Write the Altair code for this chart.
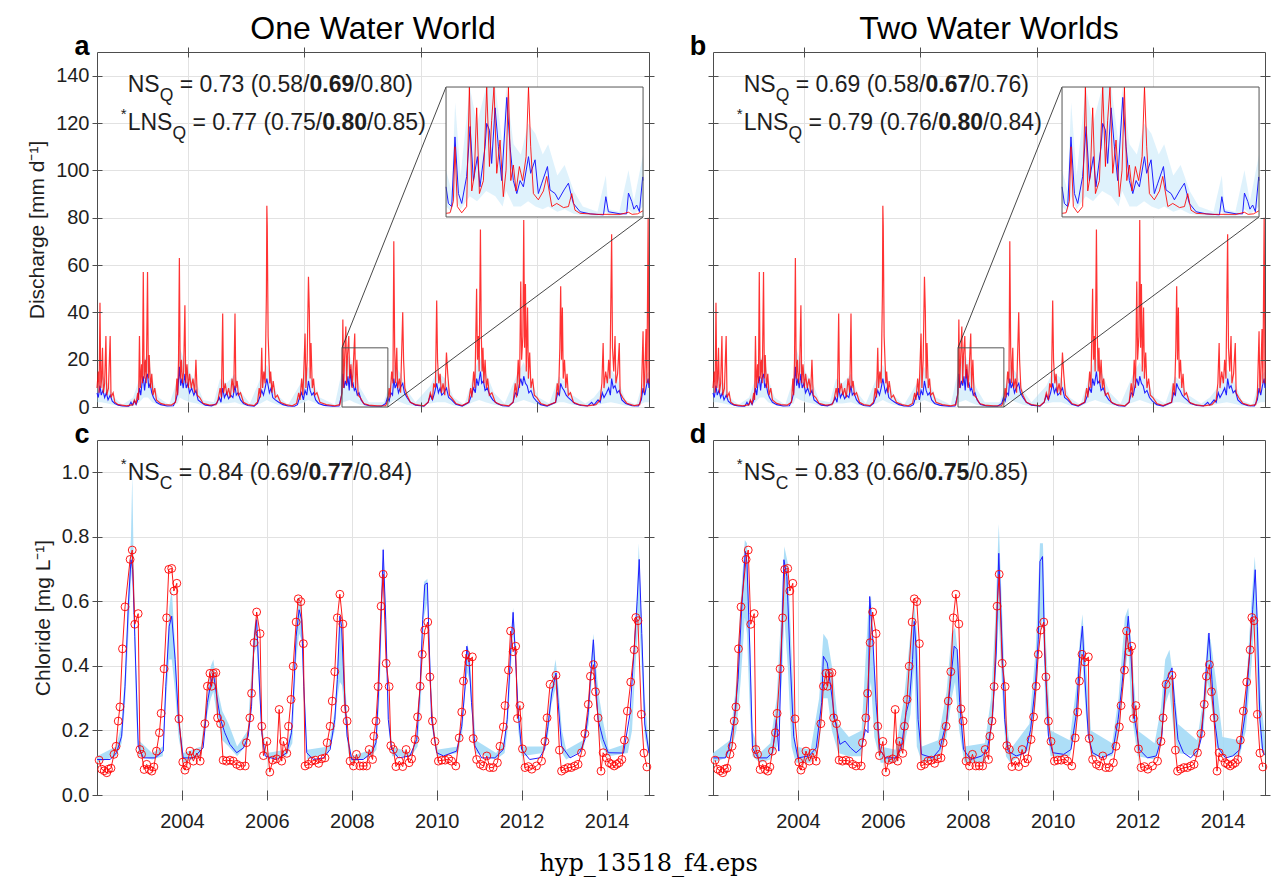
import altair as alt
import pandas as pd

# ============================ DATA ============================
# Discharge, observed (red): (decimal year, mm d-1)
Q_OBS = [
    (2002.00, 8), (2002.03, 15), (2002.05, 6), (2002.07, 44), (2002.09, 8), (2002.11, 12), (2002.13, 25),
    (2002.15, 6), (2002.18, 10), (2002.21, 30), (2002.23, 5), (2002.27, 8), (2002.31, 30), (2002.33, 4),
    (2002.38, 6), (2002.42, 2), (2002.50, 1), (2002.70, 0.5), (2002.85, 1), (2002.88, 3), (2002.92, 1.5),
    (2002.96, 6), (2002.98, 3),
    (2003.00, 30), (2003.02, 8), (2003.05, 18), (2003.07, 10), (2003.09, 57), (2003.11, 12), (2003.14, 20),
    (2003.16, 10), (2003.19, 57), (2003.21, 12), (2003.23, 22), (2003.26, 8), (2003.29, 14), (2003.32, 5),
    (2003.36, 8), (2003.40, 3), (2003.50, 1.5), (2003.60, 1), (2003.75, 0.8),
    (2003.85, 2), (2003.88, 12), (2003.90, 5), (2003.92, 20), (2003.94, 63), (2003.96, 12), (2003.99, 20),
    (2004.01, 10), (2004.04, 15), (2004.07, 43), (2004.09, 10), (2004.12, 18), (2004.15, 8), (2004.18, 14),
    (2004.22, 8), (2004.26, 12), (2004.30, 6), (2004.33, 20), (2004.36, 5), (2004.42, 4), (2004.50, 1.5),
    (2004.65, 0.8), (2004.80, 1),
    (2004.85, 3), (2004.90, 8), (2004.93, 4), (2004.96, 39.5), (2004.98, 6), (2005.02, 10), (2005.06, 5),
    (2005.10, 8), (2005.14, 4), (2005.18, 12), (2005.22, 6), (2005.25, 39.5), (2005.27, 8), (2005.30, 11),
    (2005.33, 5), (2005.38, 6), (2005.45, 2), (2005.55, 1), (2005.70, 0.6),
    (2005.78, 2), (2005.82, 8), (2005.85, 4), (2005.88, 25), (2005.90, 8), (2005.93, 15), (2005.96, 10),
    (2005.99, 48), (2006.00, 85), (2006.01, 76), (2006.03, 30), (2006.05, 20), (2006.07, 10), (2006.09, 15),
    (2006.12, 6), (2006.15, 11), (2006.20, 4), (2006.25, 5), (2006.32, 2), (2006.45, 1), (2006.60, 0.5),
    (2006.70, 1.5), (2006.75, 6), (2006.78, 3), (2006.82, 12), (2006.85, 5), (2006.90, 31), (2006.92, 8),
    (2006.95, 20), (2006.98, 55), (2007.00, 41), (2007.02, 12), (2007.04, 27), (2007.07, 8), (2007.10, 12),
    (2007.13, 5), (2007.18, 6), (2007.25, 2), (2007.40, 1), (2007.60, 0.5),
    (2007.72, 1), (2007.77, 6), (2007.79, 37), (2007.81, 8), (2007.83, 20), (2007.86, 34), (2007.88, 10),
    (2007.90, 22), (2007.93, 30), (2007.95, 12), (2007.98, 18), (2008.01, 8), (2008.03, 15), (2008.07, 31),
    (2008.09, 8), (2008.12, 20), (2008.15, 5), (2008.20, 4), (2008.28, 1.5), (2008.40, 0.8), (2008.60, 0.5),
    (2008.80, 0.6),
    (2008.85, 3), (2008.88, 8), (2008.90, 4), (2008.94, 15), (2008.97, 10), (2008.99, 70), (2009.01, 25),
    (2009.03, 10), (2009.06, 25), (2009.08, 8), (2009.12, 12), (2009.15, 6), (2009.20, 40), (2009.22, 20),
    (2009.25, 8), (2009.30, 5), (2009.38, 2), (2009.50, 1), (2009.70, 0.5),
    (2009.80, 2), (2009.85, 6), (2009.90, 3), (2009.93, 10), (2009.97, 8), (2010.00, 45), (2010.02, 20),
    (2010.05, 10), (2010.08, 14), (2010.11, 6), (2010.15, 10), (2010.19, 5), (2010.23, 23), (2010.26, 14),
    (2010.30, 5), (2010.35, 4), (2010.45, 1.5), (2010.60, 0.6),
    (2010.75, 2), (2010.80, 8), (2010.83, 4), (2010.87, 15), (2010.90, 8), (2010.94, 50), (2010.96, 20),
    (2010.98, 30), (2011.00, 15), (2011.03, 75), (2011.05, 31), (2011.07, 15), (2011.09, 25), (2011.11, 10),
    (2011.14, 20), (2011.17, 8), (2011.20, 12), (2011.24, 5), (2011.30, 6), (2011.38, 2), (2011.50, 1),
    (2011.70, 0.5),
    (2011.80, 2), (2011.85, 10), (2011.88, 4), (2011.92, 20), (2011.95, 8), (2011.98, 53), (2012.00, 20),
    (2012.03, 30), (2012.05, 79), (2012.07, 25), (2012.09, 52), (2012.11, 15), (2012.14, 42), (2012.16, 12),
    (2012.19, 23), (2012.22, 8), (2012.26, 12), (2012.30, 5), (2012.36, 4), (2012.45, 1.5), (2012.60, 0.6),
    (2012.80, 2), (2012.84, 10), (2012.87, 5), (2012.90, 25), (2012.92, 51), (2012.94, 20), (2012.96, 42),
    (2012.98, 12), (2013.01, 20), (2013.04, 8), (2013.07, 14), (2013.10, 5), (2013.15, 6), (2013.22, 2),
    (2013.35, 1), (2013.55, 0.5), (2013.75, 1),
    (2013.85, 3), (2013.89, 10), (2013.92, 27), (2013.94, 8), (2013.98, 15), (2014.02, 10), (2014.05, 20),
    (2014.08, 12), (2014.12, 73), (2014.14, 25), (2014.17, 15), (2014.20, 30), (2014.22, 10), (2014.26, 14),
    (2014.30, 27), (2014.32, 6), (2014.38, 4), (2014.48, 1.5), (2014.65, 0.6),
    (2014.78, 1), (2014.82, 5), (2014.86, 32), (2014.88, 6), (2014.90, 12), (2014.93, 33), (2014.95, 10),
    (2014.98, 80), (2015.00, 10),
]

# Discharge, model median (blue)
Q_MOD = [
    (2002.00, 6), (2002.03, 4), (2002.07, 9), (2002.10, 5), (2002.14, 7), (2002.18, 4), (2002.22, 6),
    (2002.26, 3), (2002.31, 5), (2002.36, 2.5), (2002.42, 1.5), (2002.50, 0.8), (2002.60, 0.4), (2002.75, 0.3),
    (2002.80, 2), (2002.83, 0.8), (2002.88, 2.5), (2002.92, 1), (2002.96, 3),
    (2003.00, 8), (2003.03, 5), (2003.06, 10), (2003.09, 13), (2003.12, 7), (2003.15, 12), (2003.19, 14),
    (2003.22, 8), (2003.25, 10), (2003.29, 6), (2003.33, 4), (2003.40, 2), (2003.50, 1), (2003.65, 0.4),
    (2003.80, 0.5),
    (2003.86, 3), (2003.90, 6), (2003.94, 17), (2003.97, 9), (2004.00, 12), (2004.03, 8), (2004.07, 14),
    (2004.10, 8), (2004.14, 10), (2004.18, 6), (2004.23, 8), (2004.28, 5), (2004.33, 7), (2004.38, 3),
    (2004.45, 2), (2004.55, 0.8), (2004.70, 0.5), (2004.82, 1.5),
    (2004.88, 4), (2004.92, 2), (2004.96, 8), (2005.00, 4), (2005.05, 6), (2005.10, 3.5), (2005.15, 5),
    (2005.20, 4), (2005.25, 9), (2005.28, 5), (2005.32, 6), (2005.38, 3), (2005.45, 1.5), (2005.55, 0.6),
    (2005.70, 0.3),
    (2005.78, 1.5), (2005.83, 4), (2005.88, 7), (2005.92, 5), (2005.96, 8), (2006.00, 12), (2006.03, 9),
    (2006.06, 6), (2006.10, 8), (2006.14, 4), (2006.20, 3), (2006.28, 2), (2006.38, 1), (2006.50, 0.4),
    (2006.65, 0.3),
    (2006.72, 1), (2006.77, 4), (2006.82, 6), (2006.86, 3), (2006.90, 7), (2006.94, 5), (2006.98, 11),
    (2007.02, 7), (2007.06, 5), (2007.10, 6), (2007.15, 3), (2007.22, 1.5), (2007.35, 0.7), (2007.55, 0.3),
    (2007.70, 0.4),
    (2007.76, 5), (2007.79, 14), (2007.82, 8), (2007.85, 11), (2007.88, 9), (2007.91, 13), (2007.94, 7),
    (2007.97, 16), (2008.00, 9), (2008.03, 10), (2008.06, 7), (2008.09, 8), (2008.13, 5), (2008.17, 6),
    (2008.22, 3), (2008.30, 1), (2008.45, 0.4), (2008.70, 0.3), (2008.80, 1.5),
    (2008.84, 4), (2008.88, 2.5), (2008.92, 6), (2008.96, 5), (2008.99, 12), (2009.02, 8), (2009.06, 10),
    (2009.10, 6), (2009.14, 8), (2009.20, 10), (2009.24, 6), (2009.30, 4), (2009.38, 2), (2009.50, 0.8),
    (2009.70, 0.3),
    (2009.80, 2), (2009.85, 5), (2009.90, 3), (2009.95, 6), (2010.00, 10), (2010.04, 6), (2010.08, 8),
    (2010.12, 5), (2010.17, 6), (2010.23, 8), (2010.28, 4), (2010.35, 3), (2010.45, 1.2), (2010.60, 0.4),
    (2010.76, 2), (2010.82, 5), (2010.87, 8), (2010.91, 6), (2010.94, 12), (2010.98, 9), (2011.03, 15),
    (2011.06, 10), (2011.10, 11), (2011.14, 7), (2011.19, 8), (2011.25, 5), (2011.32, 3), (2011.42, 1.5),
    (2011.55, 0.5), (2011.70, 0.3),
    (2011.80, 2), (2011.85, 6), (2011.90, 5), (2011.94, 9), (2011.98, 12), (2012.02, 9), (2012.05, 13),
    (2012.09, 10), (2012.13, 9), (2012.17, 6), (2012.22, 7), (2012.28, 4), (2012.35, 2.5), (2012.45, 1),
    (2012.60, 0.4),
    (2012.80, 2), (2012.85, 6), (2012.89, 5), (2012.92, 10), (2012.96, 8), (2013.00, 7), (2013.05, 5),
    (2013.10, 4), (2013.16, 3), (2013.25, 1.5), (2013.40, 0.6), (2013.55, 0.4), (2013.65, 2), (2013.70, 0.8),
    (2013.80, 3),
    (2013.85, 2), (2013.90, 6), (2013.94, 4), (2014.00, 6), (2014.05, 8), (2014.09, 5), (2014.12, 12),
    (2014.16, 8), (2014.20, 9), (2014.25, 6), (2014.30, 7), (2014.36, 3), (2014.45, 1.5), (2014.60, 0.5),
    (2014.75, 0.4),
    (2014.82, 3), (2014.86, 8), (2014.90, 5), (2014.94, 9), (2014.98, 12), (2015.00, 8),
]

# Discharge, model uncertainty band (light blue): (year, low, high)
Q_BAND = [
    (2002.00, 2, 10), (2002.10, 2, 14), (2002.25, 1.5, 10), (2002.40, 0.8, 4), (2002.60, 0.2, 1),
    (2002.85, 0.3, 4), (2003.00, 2, 12), (2003.10, 4, 20), (2003.20, 4, 22), (2003.30, 2, 12),
    (2003.45, 0.8, 4), (2003.70, 0.2, 1), (2003.90, 1.5, 12), (2003.95, 4, 25), (2004.05, 3, 20),
    (2004.20, 2, 14), (2004.35, 1.5, 10), (2004.50, 0.5, 3), (2004.75, 0.3, 2), (2004.90, 1.5, 12),
    (2005.05, 1.5, 10), (2005.25, 2, 14), (2005.40, 1, 6), (2005.60, 0.2, 1.5), (2005.85, 1.5, 12),
    (2006.00, 3, 18), (2006.10, 2, 13), (2006.25, 1, 5), (2006.50, 0.2, 1), (2006.80, 1.5, 10),
    (2006.98, 3, 17), (2007.10, 2, 10), (2007.25, 0.8, 4), (2007.60, 0.2, 1), (2007.80, 2, 18),
    (2007.95, 3, 22), (2008.05, 2, 16), (2008.20, 1, 8), (2008.40, 0.3, 2), (2008.75, 0.3, 2),
    (2008.90, 1.5, 10), (2009.00, 3, 18), (2009.15, 2, 14), (2009.30, 1, 7), (2009.50, 0.3, 2),
    (2009.85, 1.5, 9), (2010.00, 2, 15), (2010.20, 2, 12), (2010.40, 0.6, 4), (2010.65, 0.2, 1),
    (2010.85, 2, 12), (2011.00, 3, 22), (2011.15, 2, 15), (2011.35, 1, 6), (2011.60, 0.2, 1.5),
    (2011.90, 2, 14), (2012.05, 3, 19), (2012.20, 2, 12), (2012.40, 0.7, 4), (2012.65, 0.2, 1.5),
    (2012.88, 2, 13), (2013.00, 2, 11), (2013.20, 1, 5), (2013.50, 0.3, 1.5), (2013.70, 0.4, 4),
    (2013.92, 1.5, 9), (2014.10, 2, 16), (2014.25, 1.5, 12), (2014.45, 0.5, 3), (2014.70, 0.3, 1),
    (2014.90, 2, 13), (2015.00, 2, 15),
]

# Zoom window shown in the inset
ZOOM_T = [2007.77, 2008.85]
ZOOM_Q = [0, 25]

# Inset series (zoomed window)
IN_OBS = [
    (2007.770, 0.7), (2007.792, 0.8), (2007.810, 3), (2007.819, 13.5), (2007.832, 2), (2007.856, 0.8),
    (2007.883, 2), (2007.898, 35), (2007.911, 5), (2007.925, 8), (2007.938, 21), (2007.953, 4.5),
    (2007.975, 7), (2007.993, 35), (2008.008, 9.7), (2008.020, 18.6), (2008.033, 35), (2008.048, 8.4),
    (2008.066, 14.8), (2008.084, 3.9), (2008.099, 9), (2008.112, 35), (2008.125, 7), (2008.139, 10),
    (2008.154, 5), (2008.172, 9.7), (2008.190, 7), (2008.209, 11.6), (2008.222, 35), (2008.234, 13.5),
    (2008.249, 4.5), (2008.276, 3.3), (2008.304, 5), (2008.322, 7.8), (2008.350, 2), (2008.377, 2.6),
    (2008.414, 1.8), (2008.441, 2), (2008.459, 4.5), (2008.477, 1.3), (2008.505, 0.7), (2008.596, 0.5),
    (2008.724, 0.5), (2008.770, 0.9), (2008.790, 0.5), (2008.820, 0.6), (2008.850, 1.2),
]
IN_MOD = [
    (2007.770, 5.8), (2007.783, 2.6), (2007.801, 2), (2007.819, 15.4), (2007.838, 4.5), (2007.856, 2.6),
    (2007.883, 7.8), (2007.902, 17.4), (2007.920, 7), (2007.942, 11.6), (2007.956, 5.8), (2007.984, 13.5),
    (2007.993, 18), (2008.008, 16.7), (2008.020, 10.3), (2008.039, 21), (2008.057, 13.5), (2008.075, 7),
    (2008.103, 23), (2008.121, 13.5), (2008.139, 7), (2008.158, 4.5), (2008.176, 7), (2008.194, 5.8),
    (2008.222, 11.6), (2008.234, 8.4), (2008.258, 11), (2008.276, 4.5), (2008.295, 6.5), (2008.326, 9.7),
    (2008.340, 5.2), (2008.368, 4.5), (2008.386, 3.3), (2008.417, 5.2), (2008.441, 6.5), (2008.454, 4.5),
    (2008.468, 2.6), (2008.505, 1), (2008.560, 0.6), (2008.633, 0.4), (2008.646, 3.9), (2008.660, 1),
    (2008.724, 0.6), (2008.760, 0.6), (2008.770, 4.6), (2008.788, 3), (2008.800, 1.5), (2008.815, 2.3),
    (2008.830, 1), (2008.848, 7.7), (2008.850, 7),
]
IN_BAND = [
    (2007.770, 2, 9), (2007.800, 1, 5), (2007.820, 4, 22), (2007.850, 1.5, 8), (2007.900, 4, 25),
    (2007.940, 3, 18), (2007.990, 5, 25), (2008.040, 4, 25), (2008.080, 2, 14), (2008.100, 5, 25),
    (2008.140, 2, 14), (2008.180, 2, 12), (2008.220, 3, 18), (2008.260, 2, 16), (2008.300, 1.5, 12),
    (2008.330, 2, 14), (2008.380, 1, 8), (2008.420, 1.5, 10), (2008.470, 0.6, 5), (2008.520, 0.3, 2),
    (2008.600, 0.2, 1), (2008.646, 1, 8), (2008.660, 0.3, 1.5), (2008.720, 0.2, 1), (2008.770, 1.5, 9),
    (2008.800, 0.5, 3), (2008.850, 2, 12),
]

# Chloride, observed samples (red circles): (year, mg L-1)
C_OBS = [
    (2002.05, .108), (2002.11, .080), (2002.17, .075), (2002.23, .069), (2002.27, .080), (2002.33, .083),
    (2002.40, .126), (2002.45, .151), (2002.50, .229), (2002.54, .273), (2002.60, .453), (2002.66, .583),
    (2002.78, .730), (2002.83, .759), (2002.89, .529), (2002.97, .562), (2003.01, .141), (2003.05, .126),
    (2003.11, .079), (2003.17, .095), (2003.23, .079), (2003.29, .074), (2003.34, .087), (2003.40, .136),
    (2003.47, .193), (2003.51, .253), (2003.58, .391), (2003.64, .549), (2003.69, .699), (2003.76, .702),
    (2003.81, .632), (2003.88, .656), (2003.93, .236), (2004.02, .102), (2004.07, .077), (2004.11, .090),
    (2004.19, .136), (2004.27, .105), (2004.35, .130), (2004.43, .105), (2004.54, .221), (2004.60, .337),
    (2004.66, .377), (2004.70, .337), (2004.74, .377), (2004.80, .379), (2004.84, .239), (2004.91, .221),
    (2004.97, .108), (2005.05, .105), (2005.13, .108), (2005.21, .105), (2005.29, .095), (2005.37, .090),
    (2005.49, .090), (2005.52, .162), (2005.60, .239), (2005.64, .315), (2005.70, .472), (2005.76, .567),
    (2005.84, .500), (2005.88, .213), (2005.92, .122), (2006.00, .166), (2006.07, .071), (2006.14, .108),
    (2006.23, .112), (2006.29, .265), (2006.35, .105), (2006.39, .166), (2006.47, .129), (2006.51, .213),
    (2006.57, .296), (2006.62, .399), (2006.69, .536), (2006.74, .608), (2006.80, .599), (2006.86, .469),
    (2006.90, .090), (2006.98, .095), (2007.06, .105), (2007.14, .108), (2007.22, .098), (2007.29, .112),
    (2007.37, .115), (2007.42, .162), (2007.49, .213), (2007.54, .291), (2007.60, .382), (2007.66, .549),
    (2007.72, .622), (2007.79, .530), (2007.84, .267), (2007.89, .229), (2007.96, .105), (2008.04, .090),
    (2008.11, .126), (2008.19, .090), (2008.27, .090), (2008.35, .090), (2008.41, .141), (2008.49, .110),
    (2008.52, .182), (2008.57, .229), (2008.62, .336), (2008.69, .585), (2008.74, .684), (2008.81, .408),
    (2008.88, .336), (2008.92, .153), (2008.98, .141), (2009.04, .088), (2009.12, .105), (2009.20, .088),
    (2009.28, .141), (2009.35, .100), (2009.41, .112), (2009.49, .172), (2009.55, .242), (2009.61, .337),
    (2009.66, .436), (2009.72, .511), (2009.79, .536), (2009.84, .366), (2009.90, .229), (2009.96, .166),
    (2010.04, .105), (2010.12, .108), (2010.20, .108), (2010.28, .112), (2010.35, .105), (2010.45, .090),
    (2010.53, .177), (2010.59, .257), (2010.63, .353), (2010.69, .436), (2010.76, .412), (2010.84, .428),
    (2010.86, .175), (2010.94, .110), (2011.03, .095), (2011.10, .090), (2011.18, .121), (2011.25, .085),
    (2011.33, .085), (2011.43, .100), (2011.49, .151), (2011.57, .211), (2011.61, .277), (2011.69, .387),
    (2011.74, .508), (2011.80, .444), (2011.86, .461), (2011.90, .237), (2011.96, .277), (2012.02, .143),
    (2012.08, .085), (2012.16, .088), (2012.24, .080), (2012.35, .090), (2012.47, .105), (2012.55, .166),
    (2012.60, .239), (2012.67, .343), (2012.81, .371), (2012.89, .139), (2012.94, .074), (2013.01, .080),
    (2013.09, .085), (2013.17, .085), (2013.25, .090), (2013.33, .095), (2013.41, .131), (2013.49, .190),
    (2013.57, .281), (2013.62, .368), (2013.69, .404), (2013.74, .320), (2013.80, .239), (2013.87, .074),
    (2013.92, .131), (2014.00, .115), (2014.06, .100), (2014.12, .095), (2014.18, .090), (2014.24, .095),
    (2014.30, .100), (2014.36, .110), (2014.42, .170), (2014.49, .260), (2014.57, .350), (2014.65, .450),
    (2014.69, .550), (2014.74, .540), (2014.82, .250), (2014.88, .130), (2014.95, .087),
]

# Chloride, model median, "One Water World" (panel c)
C_MOD_1 = [
    (2002.00, .110), (2002.31, .110), (2002.46, .131), (2002.58, .182), (2002.66, .337), (2002.74, .595),
    (2002.80, .729), (2002.84, .698), (2002.89, .492), (2002.97, .152), (2003.09, .115), (2003.37, .115),
    (2003.56, .136), (2003.62, .337), (2003.70, .523), (2003.76, .554), (2003.84, .420), (2003.92, .234),
    (2004.03, .115), (2004.27, .115), (2004.50, .146), (2004.60, .286), (2004.68, .347), (2004.74, .378),
    (2004.82, .306), (2004.91, .234), (2005.01, .193), (2005.13, .157), (2005.29, .131), (2005.45, .146),
    (2005.56, .182), (2005.64, .275), (2005.70, .481), (2005.76, .543), (2005.81, .389), (2005.88, .193),
    (2005.96, .121), (2006.23, .110), (2006.47, .131), (2006.58, .193), (2006.64, .347), (2006.69, .492),
    (2006.76, .574), (2006.82, .543), (2006.87, .337), (2006.94, .131), (2007.09, .110), (2007.33, .115),
    (2007.49, .141), (2007.60, .234), (2007.66, .358), (2007.72, .554), (2007.76, .523), (2007.82, .337),
    (2007.89, .182), (2008.00, .110), (2008.27, .110), (2008.47, .131), (2008.57, .162), (2008.63, .316),
    (2008.69, .543), (2008.74, .760), (2008.80, .543), (2008.86, .234), (2008.94, .141), (2009.10, .115),
    (2009.37, .121), (2009.53, .172), (2009.61, .337), (2009.67, .543), (2009.72, .652), (2009.78, .657),
    (2009.83, .440), (2009.88, .234), (2010.00, .131), (2010.16, .121), (2010.47, .136), (2010.59, .213),
    (2010.67, .337), (2010.71, .461), (2010.76, .420), (2010.82, .286), (2010.90, .152), (2011.06, .115),
    (2011.37, .115), (2011.57, .141), (2011.66, .234), (2011.74, .440), (2011.80, .566), (2011.85, .440),
    (2011.92, .255), (2012.00, .141), (2012.19, .110), (2012.42, .115), (2012.54, .141), (2012.62, .213),
    (2012.71, .316), (2012.81, .378), (2012.86, .286), (2012.94, .152), (2013.14, .115), (2013.37, .131),
    (2013.49, .172), (2013.57, .255), (2013.63, .378), (2013.69, .481), (2013.74, .358), (2013.80, .234),
    (2013.92, .172), (2014.04, .131), (2014.40, .130), (2014.55, .250), (2014.65, .450), (2014.72, .600),
    (2014.77, .730), (2014.83, .500), (2014.90, .220), (2015.00, .130),
]
C_BAND_1 = [
    (2002.00, .10, .12), (2002.45, .12, .15), (2002.58, .16, .22), (2002.66, .28, .38), (2002.74, .50, .64),
    (2002.80, .66, .80), (2002.83, .70, .99), (2002.86, .60, .75), (2002.92, .25, .40), (2002.98, .12, .17),
    (2003.30, .11, .13), (2003.55, .12, .15), (2003.62, .28, .36), (2003.70, .42, .58), (2003.76, .42, .64),
    (2003.84, .32, .46), (2003.92, .18, .27), (2004.03, .10, .13), (2004.45, .12, .15), (2004.58, .24, .30),
    (2004.68, .30, .40), (2004.74, .32, .42), (2004.82, .25, .34), (2004.95, .17, .26), (2005.10, .15, .22),
    (2005.30, .12, .15), (2005.55, .16, .20), (2005.70, .44, .52), (2005.76, .46, .56), (2005.82, .32, .42),
    (2005.90, .15, .20), (2006.00, .11, .13), (2006.45, .12, .14), (2006.60, .16, .22), (2006.69, .42, .52),
    (2006.76, .50, .62), (2006.82, .48, .58), (2006.88, .25, .35), (2006.95, .11, .14), (2007.45, .13, .15),
    (2007.60, .20, .26), (2007.66, .30, .40), (2007.72, .35, .57), (2007.77, .34, .54), (2007.84, .24, .36),
    (2007.92, .13, .18), (2008.00, .10, .12), (2008.45, .12, .14), (2008.58, .14, .18), (2008.65, .30, .36),
    (2008.70, .50, .60), (2008.74, .70, .77), (2008.80, .50, .58), (2008.87, .20, .26), (2008.95, .12, .15),
    (2009.40, .12, .13), (2009.55, .15, .19), (2009.63, .30, .38), (2009.70, .55, .66), (2009.78, .60, .67),
    (2009.83, .40, .47), (2009.90, .20, .26), (2010.00, .12, .14), (2010.50, .13, .15), (2010.60, .19, .24),
    (2010.67, .32, .37), (2010.72, .38, .47), (2010.78, .35, .43), (2010.85, .22, .30), (2010.92, .13, .17),
    (2011.40, .11, .13), (2011.60, .13, .17), (2011.67, .20, .27), (2011.74, .38, .48), (2011.80, .50, .58),
    (2011.86, .40, .46), (2011.92, .20, .28), (2012.00, .12, .15), (2012.50, .13, .15), (2012.62, .18, .24),
    (2012.70, .28, .34), (2012.80, .33, .42), (2012.87, .26, .33), (2012.95, .13, .20), (2013.05, .11, .14),
    (2013.45, .14, .17), (2013.58, .22, .28), (2013.65, .36, .44), (2013.69, .42, .50), (2013.75, .30, .40),
    (2013.83, .18, .30), (2013.93, .14, .22), (2014.05, .12, .14), (2014.50, .13, .16), (2014.60, .20, .30),
    (2014.68, .40, .50), (2014.76, .55, .78), (2014.82, .42, .55), (2014.90, .18, .30), (2015.00, .12, .15),
]

# Chloride, model median, "Two Water Worlds" (panel d)
C_MOD_2 = [
    (2002.01, .115), (2002.29, .115), (2002.37, .141), (2002.50, .234), (2002.59, .358), (2002.67, .564),
    (2002.76, .755), (2002.80, .719), (2002.87, .440), (2002.93, .146), (2003.06, .115), (2003.27, .115),
    (2003.40, .131), (2003.49, .234), (2003.55, .136), (2003.61, .440), (2003.67, .729), (2003.74, .677),
    (2003.81, .440), (2003.90, .182), (2004.00, .115), (2004.26, .121), (2004.43, .146), (2004.56, .286),
    (2004.60, .430), (2004.69, .409), (2004.77, .337), (2004.87, .234), (2004.99, .157), (2005.11, .167),
    (2005.24, .146), (2005.37, .131), (2005.50, .146), (2005.59, .203), (2005.65, .193), (2005.69, .615),
    (2005.76, .492), (2005.84, .286), (2005.93, .141), (2006.06, .115), (2006.31, .115), (2006.44, .152),
    (2006.55, .255), (2006.63, .296), (2006.70, .420), (2006.74, .538), (2006.78, .461), (2006.83, .234),
    (2006.91, .126), (2007.17, .115), (2007.34, .141), (2007.51, .234), (2007.60, .358), (2007.68, .461),
    (2007.75, .451), (2007.81, .286), (2007.90, .141), (2008.07, .110), (2008.33, .121), (2008.46, .141),
    (2008.58, .234), (2008.67, .440), (2008.73, .749), (2008.80, .492), (2008.87, .234), (2008.95, .136),
    (2009.14, .121), (2009.36, .131), (2009.48, .203), (2009.59, .337), (2009.66, .481), (2009.70, .724),
    (2009.76, .739), (2009.81, .440), (2009.90, .182), (2010.00, .131), (2010.26, .126), (2010.43, .141),
    (2010.56, .255), (2010.64, .440), (2010.70, .523), (2010.75, .378), (2010.84, .182), (2010.94, .131),
    (2011.16, .115), (2011.41, .131), (2011.54, .234), (2011.63, .337), (2011.73, .481), (2011.78, .554),
    (2011.84, .440), (2011.93, .234), (2012.04, .141), (2012.23, .115), (2012.44, .121), (2012.57, .182),
    (2012.65, .347), (2012.81, .394), (2012.87, .286), (2012.95, .172), (2013.08, .131), (2013.25, .115),
    (2013.43, .141), (2013.51, .182), (2013.61, .378), (2013.68, .502), (2013.75, .358), (2013.81, .234),
    (2013.90, .146), (2014.07, .115), (2014.24, .121), (2014.41, .141), (2014.54, .255), (2014.64, .440),
    (2014.71, .574), (2014.77, .698), (2014.82, .523), (2014.88, .234), (2014.95, .131), (2015.00, .125),
]
C_BAND_2 = [
    (2002.00, .10, .13), (2002.40, .12, .17), (2002.55, .20, .35), (2002.65, .35, .60), (2002.75, .55, .79),
    (2002.80, .50, .78), (2002.87, .25, .50), (2002.93, .12, .20), (2003.10, .10, .13), (2003.35, .11, .16),
    (2003.50, .15, .30), (2003.62, .35, .60), (2003.68, .55, .77), (2003.76, .40, .72), (2003.85, .15, .45),
    (2003.95, .10, .15), (2004.30, .10, .14), (2004.50, .15, .30), (2004.60, .30, .50), (2004.70, .30, .48),
    (2004.80, .20, .40), (2004.95, .13, .22), (2005.20, .12, .18), (2005.50, .12, .20), (2005.66, .30, .58),
    (2005.72, .35, .62), (2005.80, .18, .40), (2005.95, .10, .15), (2006.30, .10, .14), (2006.50, .15, .30),
    (2006.65, .25, .50), (2006.74, .40, .60), (2006.80, .15, .50), (2006.92, .10, .15), (2007.30, .11, .17),
    (2007.50, .18, .32), (2007.62, .30, .50), (2007.70, .35, .52), (2007.80, .20, .40), (2007.92, .10, .15),
    (2008.40, .10, .16), (2008.55, .18, .30), (2008.65, .35, .55), (2008.73, .55, .84), (2008.80, .35, .60),
    (2008.90, .12, .25), (2009.00, .10, .14), (2009.45, .14, .22), (2009.60, .28, .45), (2009.70, .50, .78),
    (2009.77, .55, .78), (2009.83, .25, .50), (2009.95, .12, .20), (2010.40, .12, .17), (2010.55, .20, .33),
    (2010.65, .35, .50), (2010.70, .42, .56), (2010.78, .25, .42), (2010.90, .12, .20), (2011.40, .12, .16),
    (2011.55, .18, .30), (2011.70, .38, .55), (2011.78, .45, .58), (2011.86, .25, .45), (2012.00, .12, .20),
    (2012.40, .11, .16), (2012.55, .15, .27), (2012.65, .28, .42), (2012.75, .32, .45), (2012.85, .20, .35),
    (2012.95, .13, .22), (2013.40, .12, .17), (2013.55, .20, .30), (2013.65, .35, .50), (2013.72, .30, .48),
    (2013.85, .15, .35), (2014.00, .12, .18), (2014.40, .12, .17), (2014.55, .20, .32), (2014.68, .40, .60),
    (2014.76, .55, .74), (2014.83, .30, .55), (2014.90, .15, .30), (2015.00, .12, .18),
]

# Axis ticks (top row: MATLAB datenum multiples of 1000; bottom row: years)
Q_XTICKS = [2004.14, 2006.88, 2009.62, 2012.36]
Q_YTICKS = [0, 20, 40, 60, 80, 100, 120, 140]
C_XTICKS = [2004, 2006, 2008, 2010, 2012, 2014]
C_YTICKS = [0.0, 0.2, 0.4, 0.6, 0.8, 1.0]

TITLES = ["One Water World", "Two Water Worlds"]
LETTERS = ["a", "b", "c", "d"]
Y_TITLES = ["Discharge [mm d\u207b\u00b9]", "Chloride [mg L\u207b\u00b9]"]
# (star, name, subscript, value, low, median(bold), high)
STATS_A = [("", "NS", "Q", "0.73", "0.58", "0.69", "0.80"), ("*", "LNS", "Q", "0.77", "0.75", "0.80", "0.85")]
STATS_B = [("", "NS", "Q", "0.69", "0.58", "0.67", "0.76"), ("*", "LNS", "Q", "0.79", "0.76", "0.80", "0.84")]
STATS_C = [("*", "NS", "C", "0.84", "0.69", "0.77", "0.84")]
STATS_D = [("*", "NS", "C", "0.83", "0.66", "0.75", "0.85")]
CAPTION = "hyp_13518_f4.eps"

# ============================ LAYOUT / STYLE ============================
FONT = "Liberation Sans"
W, H = 552, 355
T0, T1 = 2002.0, 2015.0
Q_TOP, C_TOP = 150, 1.1
INSET_T = (2010.22, 2014.86)   # inset placement, in main-axis units
INSET_Q = (80.3, 135.2)
RED, BLUE, BAND = "#ff0000", "#1f1fff", "#a4daf6"
GRID, FRAME, TXT = "#e2e2e2", "#4d4d4d", "#1e1e1e"
TICK = 5
FS, SUB_FS, STAR_FS = 23, 17.5, 15
SUB_DN, STAR_UP = 9, 11
TEXT_X = 30.7                   # px from plot left
Q_BASES, C_BASES = [40, 78], [39.5]

AW = {str(d): 0.556 for d in range(10)}
AW.update({".": .278, " ": .278, "(": .333, ")": .333, "/": .278, "=": .584, "N": .722,
           "S": .667, "L": .556, "Q": .778, "C": .722, "*": .389})


def tw(s, size):
    return sum(AW[c] for c in s) * size


def xs():
    return alt.Scale(domain=[T0, T1], nice=False, zero=False)


def ys(top):
    return alt.Scale(domain=[0, top], nice=False, zero=False)


def px2t(px):
    return T0 + px / W * (T1 - T0)


def py2v(py, top):
    return top - py / H * top


def make_axes(xvals, yvals, xlab, ylab, ytitle, yfmt):
    gx = alt.Axis(orient="bottom", values=xvals, grid=True, gridColor=GRID, gridWidth=1, ticks=False,
                  domain=False, labels=xlab, format="d", labelPadding=16, title=None)
    ykw = dict(orient="left", values=yvals, grid=True, gridColor=GRID, gridWidth=1, ticks=False,
               domain=False, labels=ylab, format=yfmt, labelPadding=8)
    if ytitle:
        ykw.update(title=ytitle, titlePadding=8)
    else:
        ykw.update(title=None)
    gy = alt.Axis(**ykw)

    def tick(orient, vals):
        # MATLAB-style ticks that cross the frame (inside and outside)
        return alt.Axis(orient=orient, values=vals, grid=False, ticks=True, tickSize=2 * TICK, offset=-TICK,
                        tickColor=FRAME, tickWidth=1, labels=False, domain=False, title=None, zindex=1)
    return dict(gx=gx, gy=gy, bx=tick("bottom", xvals), ly=tick("left", yvals),
                tx=tick("top", xvals), ry=tick("right", yvals))


def stat_layers(stats, bases, top):
    reg, bold = [], []
    for (star, name, sub, val, lo, mid, hi), base in zip(stats, bases):
        x = TEXT_X
        if star:
            reg.append((x - tw("*", STAR_FS) - 1, base - STAR_UP, "*", STAR_FS))
        segs = [(name, FS, 0, False, 0), (sub, SUB_FS, SUB_DN, False, 0),
                (f"= {val} ({lo}/", FS, 0, False, tw(" ", FS)), (mid, FS, 0, True, 0), (f"/{hi})", FS, 0, False, 0)]
        for text, size, dy, isb, pre in segs:
            x += pre
            (bold if isb else reg).append((x, base + dy, text, size))
            x += tw(text, size)
    out = []
    for rows, weight in [(reg, "normal"), (bold, "bold")]:
        df = pd.DataFrame({"t": [px2t(r[0]) for r in rows], "v": [py2v(r[1], top) for r in rows],
                           "s": [r[2] for r in rows], "fs": [r[3] for r in rows]})
        out.append(alt.Chart(df).mark_text(align="left", baseline="alphabetic", font=FONT, color=TXT,
                                           fontWeight=weight).encode(
            x=alt.X("t:Q", scale=xs(), axis=None), y=alt.Y("v:Q", scale=ys(top), axis=None),
            text="s:N", size=alt.Size("fs:Q", scale=None, legend=None)))
    return out


def label_layer(text, px, py, top, size, align, weight="normal"):
    df = pd.DataFrame({"t": [px2t(px)], "v": [py2v(py, top)], "s": [text]})
    return alt.Chart(df).mark_text(align=align, baseline="alphabetic", font=FONT, fontSize=size,
                                   fontWeight=weight, color="#000").encode(
        x=alt.X("t:Q", scale=xs(), axis=None), y=alt.Y("v:Q", scale=ys(top), axis=None), text="s:N")


def xy(ax_x, ax_y, top, yf="v"):
    return dict(x=alt.X("t:Q", scale=xs(), axis=ax_x), y=alt.Y(f"{yf}:Q", scale=ys(top), axis=ax_y))


def discharge_panel(i, stats, show_y):
    ax = make_axes(Q_XTICKS, Q_YTICKS, False, show_y, Y_TITLES[0] if show_y else None, "d")
    band_df = pd.DataFrame(Q_BAND, columns=["t", "lo", "hi"])
    mod_df = pd.DataFrame(Q_MOD, columns=["t", "v"])
    obs_df = pd.DataFrame(Q_OBS, columns=["t", "v"])
    win = pd.DataFrame({"t": [ZOOM_T[0]], "t2": [ZOOM_T[1]], "v": [ZOOM_Q[0]], "v2": [ZOOM_Q[1]]})
    conn = pd.DataFrame({"t": [ZOOM_T[0], ZOOM_T[1]], "v": [ZOOM_Q[1], ZOOM_Q[0]],
                         "t2": [INSET_T[0], INSET_T[1]], "v2": [INSET_Q[1], INSET_Q[0]]})
    layers = [
        alt.Chart(band_df).mark_area(color=BAND, opacity=0.4).encode(**xy(ax["gx"], ax["gy"], Q_TOP, "lo"), y2="hi:Q"),
        alt.Chart(mod_df).mark_line(color=BLUE, strokeWidth=1.1).encode(**xy(ax["bx"], ax["ly"], Q_TOP)),
        alt.Chart(obs_df).mark_line(color=RED, strokeWidth=1.2, opacity=0.8).encode(**xy(ax["tx"], ax["ry"], Q_TOP)),
        alt.Chart(win).mark_rect(filled=False, color="#555555", strokeWidth=1).encode(
            **xy(None, None, Q_TOP), x2="t2:Q", y2="v2:Q"),
        alt.Chart(conn).mark_rule(color="#333333", strokeWidth=0.9).encode(
            **xy(None, None, Q_TOP), x2="t2:Q", y2="v2:Q"),
    ]
    # inset with its own scales, placed through the scale ranges
    ix0 = (INSET_T[0] - T0) / (T1 - T0) * W
    ix1 = (INSET_T[1] - T0) / (T1 - T0) * W
    iy_top = (Q_TOP - INSET_Q[1]) / Q_TOP * H
    iy_bot = (Q_TOP - INSET_Q[0]) / Q_TOP * H

    def ixy(yf="v"):
        return dict(x=alt.X("t:Q", scale=alt.Scale(domain=ZOOM_T, range=[ix0, ix1], nice=False, zero=False), axis=None),
                    y=alt.Y(f"{yf}:Q", scale=alt.Scale(domain=ZOOM_Q, range=[iy_bot, iy_top], nice=False,
                                                        zero=False, clamp=True), axis=None))
    ib = pd.DataFrame(IN_BAND, columns=["t", "lo", "hi"])
    im = pd.DataFrame(IN_MOD, columns=["t", "v"])
    io = pd.DataFrame(IN_OBS, columns=["t", "v"])
    layers += [
        alt.Chart(win).mark_rect(color="white").encode(**ixy(), x2="t2:Q", y2="v2:Q"),
        alt.Chart(ib).mark_area(color=BAND, opacity=0.35).encode(**ixy("lo"), y2="hi:Q"),
        alt.Chart(im).mark_line(color=BLUE, strokeWidth=1).encode(**ixy()),
        alt.Chart(io).mark_line(color=RED, strokeWidth=1, opacity=0.85).encode(**ixy()),
        alt.Chart(win).mark_rect(filled=False, color="#555555", strokeWidth=1).encode(**ixy(), x2="t2:Q", y2="v2:Q"),
    ]
    layers += stat_layers(stats, Q_BASES, Q_TOP)
    layers.append(label_layer(LETTERS[i], -15, 3, Q_TOP, 27, "center", "bold"))
    layers.append(label_layer(TITLES[i], W / 2, -13, Q_TOP, 32, "center"))
    return alt.layer(*layers).resolve_scale(x="independent", y="independent").properties(width=W, height=H)


def chloride_panel(i, mod, band, stats, show_y):
    ax = make_axes(C_XTICKS, C_YTICKS, True, show_y, Y_TITLES[1] if show_y else None, ".1f")
    band_df = pd.DataFrame(band, columns=["t", "lo", "hi"])
    mod_df = pd.DataFrame(mod, columns=["t", "v"])
    obs_df = pd.DataFrame(C_OBS, columns=["t", "v"])
    layers = [
        alt.Chart(band_df).mark_area(color=BAND, opacity=0.9).encode(**xy(ax["gx"], ax["gy"], C_TOP, "lo"), y2="hi:Q"),
        alt.Chart(mod_df).mark_line(color=BLUE, strokeWidth=1).encode(**xy(ax["bx"], ax["ly"], C_TOP)),
        alt.Chart(obs_df).mark_line(color=RED, strokeWidth=0.9).encode(**xy(ax["tx"], ax["ry"], C_TOP)),
        alt.Chart(obs_df).mark_point(shape="circle", filled=False, color=RED, size=62, strokeWidth=0.9,
                                     opacity=1).encode(**xy(None, None, C_TOP)),
    ]
    layers += stat_layers(stats, C_BASES, C_TOP)
    layers.append(label_layer(LETTERS[i], -15, 3, C_TOP, 27, "center", "bold"))
    return alt.layer(*layers).resolve_scale(x="independent", y="independent").properties(width=W, height=H)


chart = alt.concat(
    discharge_panel(0, STATS_A, True), discharge_panel(1, STATS_B, False),
    chloride_panel(2, C_MOD_1, C_BAND_1, STATS_C, True), chloride_panel(3, C_MOD_2, C_BAND_2, STATS_D, False),
    columns=2, spacing={"row": 33, "column": 64}, bounds="flush",
).properties(
    title=alt.TitleParams(CAPTION, orient="bottom", anchor="middle", font="DejaVu Serif", fontSize=24,
                          fontWeight="normal", offset=20, color="#000"),
    padding={"left": 26, "top": 12, "right": 5, "bottom": 5},
).configure_view(stroke=FRAME, strokeWidth=1).configure_axis(
    labelFont=FONT, titleFont=FONT, labelFontSize=20, titleFontSize=21, labelColor=TXT, titleColor=TXT,
    titleFontWeight="normal").configure_title(font=FONT, fontSize=32, fontWeight="normal", color="#000")

chart.save("out.html", embed_options={"renderer": "svg", "actions": False})
